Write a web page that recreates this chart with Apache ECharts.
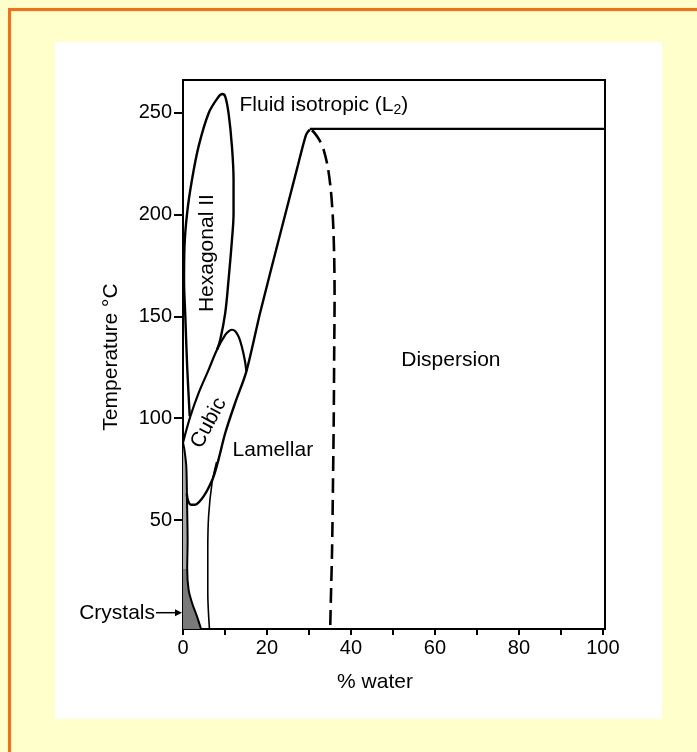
<!DOCTYPE html>
<html>
<head>
<meta charset="utf-8">
<script src="https://cdn.jsdelivr.net/npm/echarts@6/dist/echarts.min.js"></script>
<style>
html, body { margin: 0; padding: 0; background: #ffffcc; overflow: hidden; }
#frame { position: absolute; left: 8px; top: 8px; width: 720px; height: 780px;
         border-left: 3px solid #ff6a13; border-top: 3px solid #ff6a13; }
#panel { position: absolute; left: 55px; top: 42px; width: 607px; height: 677px; background: #fff; }
#chart { position: absolute; left: 0; top: 0; width: 697px; height: 752px; }
</style>
</head>
<body>
<div id="frame"></div>
<div id="panel"></div>
<div id="chart"></div>
<script>
// phase boundaries, % water (x) vs temperature in °C (t)
var hexX = [1.6, 1.0, 0.55, 0.25, 0.35, 1.0, 2.14, 3.7, 6.1, 8.3, 9.35, 10.06, 10.85, 11.66, 12.04, 12.04, 11.66, 10.85, 10.06, 8.87, 8.09];
var hexT = [101, 125, 150, 168, 184, 201, 217, 233.3, 249.7, 257.3, 259.1, 257.9, 249.7, 233.3, 217, 200.6, 187.5, 168, 151.7, 138.5, 133.6];

var cubicX = [0, 1.74, 3.71, 6.09, 8.09, 10.06, 11.0, 11.66, 12.5, 13.3, 14.0, 14.7, 15.1];
var cubicT = [88, 100.8, 112.3, 123.7, 133.6, 140.9, 142.8, 143.4, 142.6, 139.8, 135.2, 128.7, 123];

var lamellarX = [0.9, 1.2, 1.9, 2.9, 3.8, 4.9, 6.0, 7.3, 8.5, 10.06, 12.4, 15.1, 18.4, 23.1, 27.1, 28.6, 29.4, 30.2];
var lamellarT = [63, 59.5, 57.5, 57.5, 58.8, 61.6, 65.5, 71.4, 80, 92.7, 107.4, 123, 152, 190, 222, 234, 239.5, 241.6];

var fluidX = [30.2, 100.5];
var fluidT = [242, 242];

var dispX = [30.7, 31.4, 32.5, 33.5, 34.5, 35.2, 35.7, 36.0, 36.1, 36.0, 35.9, 35.7, 35.5, 35.2, 35.05];
var dispT = [241.3, 239.8, 236.5, 231.7, 223, 212, 198, 180, 160, 130, 100, 65, 35, 10, -3.5];

var lamLeftX = [6.3, 5.9, 5.9, 6.1, 6.9, 8.0];
var lamLeftT = [-3.5, 15, 35, 52, 68, 78.5];

// crystals: thin strip along the axis, widening to a wedge at the bottom
var stripX = [0, 0.3, 0.79, 0.95, 1.1, 1.0];
var stripT = [88, 85, 76.3, 60, 40, 26];
var wedgeX = [1.0, 1.33, 2.14, 3.33, 4.3];
var wedgeT = [26, 15.8, 9.4, 2.7, -3.5];

var xTicks = [0, 10, 20, 30, 40, 50, 60, 70, 80, 90, 100];
var xLabels = [0, 20, 40, 60, 80, 100];
var yTicks = [50, 100, 150, 200, 250];

// region names, anchored in data coordinates
var regionNames = ['Fluid isotropic (L{s|2})', 'Hexagonal II', 'Cubic', 'Lamellar', 'Dispersion'];
var regionX = [13.45, 5.8, 6.1, 21.4, 63.8];
var regionT = [253.4, 181, 97.6, 84.5, 128.3];
var regionRot = [0, 90, 62, 0, 0];
var regionAlign = ['left', 'center', 'center', 'center', 'center'];

var FONT = '"Liberation Sans", Arial, Helvetica, sans-serif';

function pairs(xs, ts) {
    var out = [];
    for (var i = 0; i < xs.length; i++) out.push([xs[i], ts[i]]);
    return out;
}

function curve(xs, ts, width, dashed, smooth) {
    return {
        type: 'line',
        data: pairs(xs, ts),
        symbol: 'none',
        smooth: smooth,
        silent: true,
        z: 3,
        lineStyle: {
            color: '#000',
            width: width,
            type: dashed ? [15, 7] : 'solid',
            cap: 'butt'
        }
    };
}

var chart = echarts.init(document.getElementById('chart'));

var option = {
    animation: false,
    backgroundColor: 'transparent',
    grid: {
        left: 183, top: 80, width: 422, height: 549,
        show: true,
        borderColor: '#000',
        borderWidth: 2,
        backgroundColor: 'transparent'
    },
    xAxis: {
        type: 'value',
        min: 0,
        max: 100.5,
        splitLine: { show: false },
        axisLine: { onZero: false, lineStyle: { color: '#000', width: 2 } },
        axisTick: { customValues: xTicks, length: 6, lineStyle: { color: '#000', width: 2 } },
        axisLabel: { customValues: xLabels, fontSize: 20, color: '#000', margin: 9, fontFamily: FONT }
    },
    yAxis: {
        type: 'value',
        min: -3.5,
        max: 266,
        splitLine: { show: false },
        axisLine: { onZero: false, lineStyle: { color: '#000', width: 2 } },
        axisTick: { customValues: yTicks, length: 9, lineStyle: { color: '#000', width: 2 } },
        axisLabel: { customValues: yTicks, fontSize: 20, color: '#000', margin: 11, fontFamily: FONT }
    },
    series: [
        {
            type: 'custom',
            silent: true,
            z: 2,
            data: [[0, 0]],
            renderItem: function (params, api) {
                var strip = [], wedge = [];
                for (var i = 0; i < stripX.length; i++) strip.push(api.coord([stripX[i], stripT[i]]));
                strip.push(api.coord([0, stripT[stripT.length - 1]]));
                for (var j = 0; j < wedgeX.length; j++) wedge.push(api.coord([wedgeX[j], wedgeT[j]]));
                wedge.push(api.coord([0, wedgeT[wedgeT.length - 1]]));
                wedge.push(api.coord([0, wedgeT[0]]));
                return {
                    type: 'group',
                    children: [
                        { type: 'polygon', shape: { points: strip }, style: { fill: '#a8a8a8', stroke: null } },
                        { type: 'polygon', shape: { points: wedge }, style: { fill: '#7a7a7a', stroke: null } }
                    ]
                };
            }
        },
        curve(hexX, hexT, 2.4, false, 0.35),
        curve(cubicX, cubicT, 2.2, false, 0.35),
        curve(lamellarX, lamellarT, 2.4, false, 0.3),
        curve(fluidX, fluidT, 2.2, false, false),
        curve(dispX, dispT, 2.6, true, 0.3),
        curve(lamLeftX, lamLeftT, 1.6, false, 0.35),
        curve(stripX.concat(wedgeX.slice(1)), stripT.concat(wedgeT.slice(1)), 2, false, 0.3)
    ]
};
chart.setOption(option);

// annotations
var graphics = [];
for (var i = 0; i < regionNames.length; i++) {
    var p = chart.convertToPixel({ gridIndex: 0 }, [regionX[i], regionT[i]]);
    graphics.push({
        type: 'text',
        x: p[0], y: p[1],
        rotation: regionRot[i] * Math.PI / 180,
        z: 10,
        style: {
            text: regionNames[i],
            fontSize: 21,
            fontFamily: FONT,
            fill: '#000',
            align: regionAlign[i],
            verticalAlign: 'middle',
            rich: { s: { fontSize: 14, fontFamily: FONT, fill: '#000', padding: [9, 0, 0, 0] } }
        }
    });
}

// "Crystals" with arrow pointing at the axis
var arrowAt = chart.convertToPixel({ gridIndex: 0 }, [0, 4.5]);
graphics.push({
    type: 'text', x: arrowAt[0] - 28, y: arrowAt[1], z: 10,
    style: { text: 'Crystals', fontSize: 21, fontFamily: FONT, fill: '#000', align: 'right', verticalAlign: 'middle' }
});
graphics.push({
    type: 'line', z: 10,
    shape: { x1: arrowAt[0] - 27, y1: arrowAt[1], x2: arrowAt[0] - 6, y2: arrowAt[1] },
    style: { stroke: '#000', lineWidth: 1.5 }
});
graphics.push({
    type: 'polygon', z: 10,
    shape: { points: [[arrowAt[0] - 1, arrowAt[1]], [arrowAt[0] - 8, arrowAt[1] - 3.5], [arrowAt[0] - 8, arrowAt[1] + 3.5]] },
    style: { fill: '#000' }
});

// axis titles
graphics.push({
    type: 'text', x: 111, y: 357, rotation: Math.PI / 2, z: 10,
    style: { text: 'Temperature °C', fontSize: 21, fontFamily: FONT, fill: '#000', align: 'center', verticalAlign: 'middle' }
});
graphics.push({
    type: 'text', x: 375, y: 682, z: 10,
    style: { text: '% water', fontSize: 21, fontFamily: FONT, fill: '#000', align: 'center', verticalAlign: 'middle' }
});

chart.setOption({ graphic: graphics });
</script>
</body>
</html>
